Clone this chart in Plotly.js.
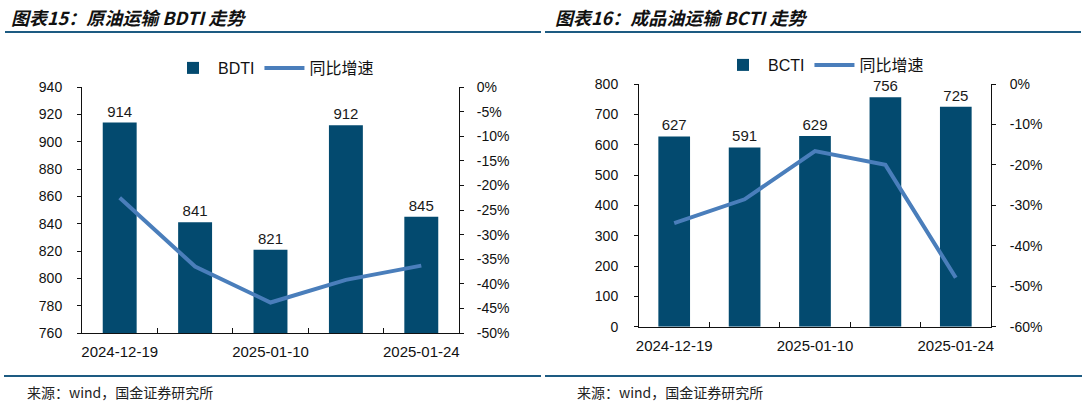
<!DOCTYPE html>
<html>
<head>
<meta charset="utf-8">
<script src="https://cdn.plot.ly/plotly-3.0.1.min.js"></script>
<style>html,body{margin:0;padding:0;background:#fff;}#chart{width:1086px;height:406px;}</style>
</head>
<body>
<div id="chart"></div>
<script>
// ---------- data ----------
const dates = ["2024-12-19", "2025-01-03", "2025-01-10", "2025-01-17", "2025-01-24"];
const dateLabels = ["2024-12-19", "", "2025-01-10", "", "2025-01-24"];

const bdti = [914, 841, 821, 912, 845];
const bdtiYoY = [-22.5, -36.5, -43.8, -39.2, -36.3];

const bcti = [627, 591, 629, 756, 725];
const bctiYoY = [-34.4, -28.5, -16.6, -20.0, -47.9];

const leftTicks1 = [760, 780, 800, 820, 840, 860, 880, 900, 920, 940];
const rightTicks1 = [0, -5, -10, -15, -20, -25, -30, -35, -40, -45, -50];
const leftTicks2 = [0, 100, 200, 300, 400, 500, 600, 700, 800];
const rightTicks2 = [0, -10, -20, -30, -40, -50, -60];

const title1 = "图表15：原油运输 BDTI 走势";
const title2 = "图表16：成品油运输 BCTI 走势";
const source = "来源：wind，国金证券研究所";
const yoyName = "同比增速";

// ---------- styles ----------
const W = 1086, H = 406;
const barColor = "#034a6f";
const lineColor = "#4a7ebb";
const axisColor = "#111111";
const textColor = "#111111";
const fontLatin = "'Liberation Sans', Arial, sans-serif";
const fontCJK = "'Noto Sans CJK SC', sans-serif";
const px = v => v / W;
const py = v => 1 - v / H;
const pct = arr => arr.map(v => v + "%");

const traces = [
  {type: "bar", x: dates, y: bdti, name: "BDTI", xaxis: "x", yaxis: "y",
   marker: {color: barColor, line: {width: 0}}, text: bdti.map(String),
   textposition: "outside", cliponaxis: false, textfont: {family: fontLatin, size: 15, color: "#1a1a1a"},
   legend: "legend"},
  {type: "scatter", mode: "lines", x: dates, y: bdtiYoY, name: yoyName, xaxis: "x", yaxis: "y3",
   line: {color: lineColor, width: 4}, legend: "legend"},
  {type: "bar", x: dates, y: bcti, name: "BCTI", xaxis: "x2", yaxis: "y2",
   marker: {color: barColor, line: {width: 0}}, text: bcti.map(String),
   textposition: "outside", cliponaxis: false, textfont: {family: fontLatin, size: 15, color: "#1a1a1a"},
   legend: "legend2"},
  {type: "scatter", mode: "lines", x: dates, y: bctiYoY, name: yoyName, xaxis: "x2", yaxis: "y4",
   line: {color: lineColor, width: 4}, legend: "legend2"}
];

const xCommon = {
  type: "category", tickmode: "array", tickvals: dates, ticktext: dateLabels, tickangle: 0,
  tickson: "boundaries", ticks: "inside", ticklen: 5, tickcolor: axisColor, tickwidth: 1,
  showline: true, linecolor: axisColor, linewidth: 1, showgrid: false, zeroline: false,
  tickfont: {family: fontLatin, size: 15, color: textColor}, ticklabelstandoff: 5,
  range: [-0.5, 4.5], fixedrange: true
};
const yCommon = {
  ticks: "outside", ticklen: 4, tickcolor: axisColor, showline: true, linecolor: axisColor,
  linewidth: 1, showgrid: false, zeroline: false, tickmode: "array",
  tickfont: {family: fontLatin, size: 14, color: textColor}, fixedrange: true
};

const layout = {
  width: W, height: H, autosize: false,
  margin: {l: 0, r: 0, t: 0, b: 0, pad: 0},
  paper_bgcolor: "#ffffff", plot_bgcolor: "#ffffff",
  bargap: 0.55,
  showlegend: true,
  xaxis: Object.assign({}, xCommon, {domain: [px(82), px(459)], anchor: "y"}),
  yaxis: Object.assign({}, yCommon, {domain: [py(333), py(87)], range: [760, 940],
    tickvals: leftTicks1, ticktext: leftTicks1.map(String), anchor: "x", ticklabelstandoff: 12}),
  yaxis3: Object.assign({}, yCommon, {overlaying: "y", side: "right", anchor: "x", range: [-50, 0],
    tickvals: rightTicks1, ticktext: pct(rightTicks1), ticklabelstandoff: 10}),
  xaxis2: Object.assign({}, xCommon, {domain: [px(639), px(991)], anchor: "y2"}),
  yaxis2: Object.assign({}, yCommon, {domain: [py(326.7), py(84)], range: [0, 800],
    tickvals: leftTicks2, ticktext: leftTicks2.map(String), anchor: "x2", ticklabelstandoff: 13}),
  yaxis4: Object.assign({}, yCommon, {overlaying: "y2", side: "right", anchor: "x2", range: [-60, 0],
    tickvals: rightTicks2, ticktext: pct(rightTicks2), ticklabelstandoff: 11}),
  legend: {orientation: "h", x: px(168), y: py(68), xanchor: "left", yanchor: "middle",
    font: {family: fontLatin + ", " + fontCJK, size: 16, color: textColor}, bgcolor: "rgba(0,0,0,0)",
    itemwidth: 40, traceorder: "normal"},
  legend2: {orientation: "h", x: px(718), y: py(65), xanchor: "left", yanchor: "middle",
    font: {family: fontLatin + ", " + fontCJK, size: 16, color: textColor}, bgcolor: "rgba(0,0,0,0)",
    itemwidth: 40, traceorder: "normal"},
  shapes: [
    {type: "line", xref: "paper", yref: "paper", x0: px(5), x1: px(541), y0: py(32), y1: py(32),
     line: {color: "#1d5b82", width: 2}},
    {type: "line", xref: "paper", yref: "paper", x0: px(545), x1: px(1081), y0: py(32), y1: py(32),
     line: {color: "#1d5b82", width: 2}},
    {type: "line", xref: "paper", yref: "paper", x0: px(4), x1: px(541), y0: py(376), y1: py(376),
     line: {color: "#1d5b82", width: 2}},
    {type: "line", xref: "paper", yref: "paper", x0: px(545), x1: px(1082), y0: py(376), y1: py(376),
     line: {color: "#1d5b82", width: 2}}
  ],
  annotations: [
    {text: "<b><i>" + title1 + "</i></b>", xref: "paper", yref: "paper", x: px(9), y: py(17),
     xanchor: "left", yanchor: "middle", showarrow: false,
     font: {family: fontCJK, size: 18, color: "#111111"}},
    {text: "<b><i>" + title2 + "</i></b>", xref: "paper", yref: "paper", x: px(553), y: py(17),
     xanchor: "left", yanchor: "middle", showarrow: false,
     font: {family: fontCJK, size: 18, color: "#111111"}},
    {text: source, xref: "paper", yref: "paper", x: px(25), y: py(392),
     xanchor: "left", yanchor: "middle", showarrow: false,
     font: {family: fontCJK, size: 14, color: "#222222"}},
    {text: source, xref: "paper", yref: "paper", x: px(575), y: py(392),
     xanchor: "left", yanchor: "middle", showarrow: false,
     font: {family: fontCJK, size: 14, color: "#222222"}}
  ]
};

Plotly.newPlot("chart", traces, layout, {staticPlot: true, displayModeBar: false});
</script>
</body>
</html>
